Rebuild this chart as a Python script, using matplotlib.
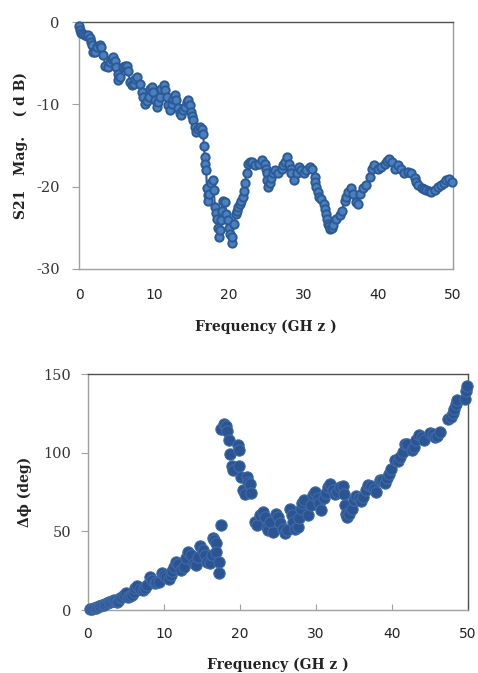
import matplotlib
matplotlib.use("Agg")
import matplotlib.pyplot as plt

# ---------------- data: S21 magnitude ----------------
freq_mag = [0.0, 0.1, 0.3, 0.55, 0.8, 1.05, 1.25, 1.5, 1.6, 1.7, 1.85, 2.1, 2.4, 2.8, 3.0, 3.25, 3.5,
            3.9, 4.1, 4.35, 4.6, 4.8, 5.0, 5.15, 5.25, 5.5, 5.9, 6.2, 6.4, 6.6, 6.8, 7.05, 7.3,
            7.5, 7.7, 8.1, 8.4, 8.6, 8.8, 9.05, 9.3, 9.5, 9.7, 9.9, 10.2, 10.4, 10.6, 10.8, 11.0,
            11.3, 11.5, 11.7, 11.9, 12.2, 12.4, 12.6, 12.8, 13.0, 13.3, 13.5, 13.7, 13.9, 14.2,
            14.4, 14.6, 14.8, 15.0, 15.15, 15.3, 15.5, 15.7, 15.9, 16.2, 16.4, 16.6, 16.7, 16.8,
            16.9, 17.0, 17.1, 17.2, 17.3, 17.4, 17.6, 17.9, 18.0, 18.2, 18.35, 18.5, 18.6, 18.7,
            18.8, 19.0, 19.1, 19.2, 19.5, 19.7, 19.9, 20.05, 20.2, 20.4, 20.5, 20.7, 21.0, 21.1,
            21.3, 21.5, 21.7, 21.9, 22.05, 22.2, 22.4, 22.6, 22.85, 23.1, 23.5, 24.0, 24.4, 24.8,
            25.0, 25.1, 25.2, 25.3, 25.5, 25.7, 25.9, 26.2, 26.6, 27.1, 27.3, 27.5, 27.8, 28.1,
            28.3, 28.4, 28.7, 29.1, 29.4, 29.7, 30.1, 30.4, 30.9, 31.2, 31.5, 31.6, 31.7, 31.9,
            32.1, 32.4, 32.7, 32.85, 33.0, 33.15, 33.3, 33.45, 33.6, 33.8, 34.0, 34.4, 34.9, 35.2,
            35.5, 35.75, 36.0, 36.3, 36.6, 37.0, 37.3, 37.6, 38.0, 38.4, 38.9, 39.2, 39.5, 40.0,
            40.4, 40.9, 41.2, 41.5, 41.8, 42.2, 42.7, 43.1, 43.5, 44.0, 44.4, 44.9, 45.1, 45.3,
            45.8, 46.1, 46.4, 46.8, 47.1, 47.6, 48.0, 48.4, 48.8, 49.1, 49.5, 49.8]
s21_mag = [-0.5, -1.0, -1.3, -1.5, -1.6, -1.7, -1.6, -2.0, -2.4, -2.8, -3.6, -3.6, -3.0, -2.8, -3.0, -4.0, -5.3,
           -5.5, -4.9, -4.5, -4.25, -4.7, -5.5, -6.3, -7.1, -6.7, -5.5, -5.3, -5.3, -5.9, -7.3, -7.6, -7.5,
           -6.9, -6.7, -7.5, -8.5, -9.1, -9.9, -9.6, -9.1, -8.1, -7.9, -8.5, -9.5, -10.3, -9.7, -9.1, -8.1,
           -7.7, -8.3, -9.1, -10.1, -10.7, -9.9, -9.3, -8.9, -9.5, -10.5, -11.0, -11.3, -10.7, -10.3,
           -9.7, -9.5, -10.1, -10.9, -11.4, -11.9, -12.8, -13.4, -13.0, -12.8, -13.0, -13.6, -15.0, -16.4,
           -17.2, -18.0, -20.2, -21.0, -21.7, -20.9, -19.6, -19.2, -20.4, -22.5, -23.2, -23.9, -25.0, -26.1,
           -25.3, -24.0, -22.9, -21.7, -21.9, -23.3, -24.1, -25.0, -25.7, -26.9, -26.1, -24.5, -23.3, -22.9,
           -22.5, -22.1, -21.7, -21.3, -20.5, -19.6, -18.4, -17.2, -17.0, -17.0, -17.4, -17.2, -16.8, -17.2,
           -17.8, -18.4, -19.2, -20.0, -19.6, -19.0, -18.4, -18.0, -18.4, -17.8, -17.4, -17.0, -16.4, -17.2,
           -17.8, -18.4, -19.2, -18.4, -17.6, -18.0, -18.4, -18.0, -17.6, -17.8, -18.8, -19.4, -20.0, -20.6,
           -21.3, -21.5, -22.1, -22.7, -23.3, -23.9, -24.5, -24.8, -25.1, -25.0, -24.7, -23.9, -23.5, -22.9,
           -21.7, -21.2, -20.6, -20.2, -20.9, -21.9, -22.1, -20.9, -20.2, -19.8, -18.8, -17.8, -17.4, -17.8,
           -17.6, -17.2, -16.9, -16.6, -17.0, -17.8, -17.4, -17.8, -18.4, -18.2, -18.4, -19.0, -19.4, -19.8,
           -20.2, -20.3, -20.4, -20.5, -20.6, -20.4, -20.0, -19.8, -19.6, -19.2, -19.1, -19.4]

# ---------------- data: phase difference ----------------
freq_phase = [0.3, 0.55, 0.75, 1.0, 1.2, 1.4, 1.6, 1.85, 2.1, 2.3, 2.5, 2.7, 2.9, 3.2, 3.4, 3.6, 3.8, 4.0,
              4.2, 4.45, 4.7, 5.0, 5.3, 5.55, 5.8, 6.0, 6.2, 6.5, 6.9, 7.3, 7.5, 7.7, 8.1, 8.4, 8.8,
              9.0, 9.3, 9.7, 10.0, 10.2, 10.6, 10.9, 11.1, 11.3, 11.6, 11.9, 12.2, 12.6, 12.9, 13.2,
              13.5, 13.9, 14.2, 14.5, 14.8, 15.1, 15.4, 15.7, 16.0, 16.3, 16.4, 16.6, 16.8, 16.9,
              17.2, 17.3, 17.5, 17.5, 17.9, 18.1, 18.3, 18.5, 18.7, 18.9, 19.1, 19.7, 19.9, 19.9,
              20.1, 20.4, 20.7, 20.9, 21.1, 21.3, 21.5, 22.0, 22.3, 22.6, 23.0, 23.3, 23.5, 23.7,
              24.0, 24.4, 24.7, 25.0, 25.3, 25.6, 25.9, 26.2, 26.6, 26.8, 27.0, 27.2, 27.6, 27.8,
              28.0, 28.2, 28.4, 29.0, 29.3, 29.6, 29.9, 30.2, 30.4, 30.7, 31.0, 31.3, 31.6, 31.9,
              32.2, 32.5, 32.8, 33.1, 33.5, 33.7, 33.8, 33.9, 34.1, 34.4, 34.7, 35.0, 35.2, 35.6,
              35.9, 36.2, 36.6, 36.9, 37.2, 37.6, 37.9, 38.4, 38.7, 39.1, 39.4, 39.6, 39.9, 40.4,
              40.8, 41.1, 41.4, 41.7, 42.0, 42.6, 42.9, 43.2, 43.6, 43.9, 44.2, 45.0, 45.4, 45.6,
              45.9, 46.3, 47.4, 47.7, 48.0, 48.1, 48.4, 48.6, 49.6, 49.8, 49.9]
delta_phi = [0.4, 0.7, 1.0, 1.5, 2.0, 2.4, 2.7, 3.0, 3.2, 3.6, 4.2, 4.8, 5.3, 5.8, 6.3, 5.6, 5.3, 6.0,
             7.4, 8.2, 9.5, 10.6, 8.5, 9.0, 9.5, 11.5, 13.7, 15.2, 13.1, 12.7, 14.2, 15.9, 20.7, 19.0, 16.9,
             17.5, 18.0, 23.3, 22.5, 21.2, 19.5, 22.2, 25.0, 27.5, 30.7, 29.2, 25.4, 27.5, 32.8, 37.0,
             34.9, 29.6, 28.6, 33.8, 40.6, 38.1, 34.9, 30.7, 29.6, 34.9, 45.5, 44.4, 42.3, 37.0,
             30.7, 23.3, 53.9, 115.3, 118.5, 116.8, 113.8, 107.9, 99.0, 91.4, 89.3, 104.7, 101.5, 91.4,
             84.6, 76.2, 73.6, 84.6, 81.4, 80.4, 74.5, 56.1, 53.9, 60.3, 62.4, 59.2, 52.9, 50.8,
             56.1, 49.7, 61.3, 59.2, 55.0, 51.8, 49.1, 50.8, 64.5, 60.3, 56.1, 51.8, 52.9, 58.2,
             64.5, 67.7, 70.2, 60.3, 66.6, 73.0, 75.1, 70.9, 67.7, 63.5, 70.9, 74.5, 78.3, 80.0,
             76.2, 73.6, 75.1, 78.3, 78.7, 74.0, 66.6, 61.3, 59.2, 61.3, 64.5, 69.8, 72.3, 70.9,
             69.4, 71.9, 76.2, 79.3, 78.7, 76.6, 75.1, 82.5, 82.9, 80.8, 83.6, 86.7, 89.9, 95.6,
             94.8, 97.3, 100.5, 105.3, 105.3, 102.0, 103.7, 108.3, 111.1, 110.0, 107.9, 112.5, 111.7, 110.0,
             110.4, 113.2, 121.6, 122.7, 125.2, 128.0, 130.7, 133.7, 134.3, 139.2, 142.2]

mag_yticks = [0, -10, -20, -30]
phase_yticks = [0, 50, 100, 150]
xticks = [0, 10, 20, 30, 40, 50]

W, H = 478, 673
fig = plt.figure(figsize=(W / 100, H / 100), dpi=100)

def box(l, t, r, b):
    return [l / W, 1 - b / H, (r - l) / W, (b - t) / H]

serif = "DejaVu Serif"
label_kw = dict(fontfamily=serif, fontweight="bold", fontsize=10, color="#222222")

# ---------- top panel ----------
ax1 = fig.add_axes(box(79, 22, 453, 269))
ax1.plot(freq_mag, s21_mag, "-o", color="#2b5a94", lw=1.5, ms=6.0,
         mfc="#4a7fc0", mec="#2b5a94", mew=1.4, clip_on=False, zorder=3)
ax1.set_xlim(0, 50)
ax1.set_ylim(-30, 0)
ax1.set_xticks(xticks)
ax1.set_yticks(mag_yticks)
ax1.set_xticklabels([str(v) for v in xticks], fontfamily="DejaVu Sans", fontsize=10, color="#222222")
ax1.set_yticklabels([str(v) for v in mag_yticks], fontfamily=serif, fontsize=10.5, color="#333333")
ax1.tick_params(axis="x", direction="in", length=0, pad=14)
ax1.tick_params(axis="y", direction="out", length=5, width=0.8, color="#a0a0a0", pad=9)
ax1.spines["left"].set_color("#a0a0a0")
ax1.spines["bottom"].set_color("#a0a0a0")
ax1.spines["top"].set_color("#505050")
ax1.spines["right"].set_color("#9a9a9a")
for s in ax1.spines.values():
    s.set_linewidth(1.0)
ax1.set_xlabel("Frequency (GH z )", labelpad=12, **label_kw)
ax1.set_ylabel("S21   Mag.    ( d B)", labelpad=6, **label_kw)

# ---------- bottom panel ----------
ax2 = fig.add_axes(box(88, 374, 468, 610))
ax2.scatter(freq_phase, delta_phi, s=66, c="#2a5592", edgecolors="#3f6aa6",
            linewidths=0.8, clip_on=False, zorder=3)
ax2.set_xlim(0, 50)
ax2.set_ylim(0, 150)
ax2.set_xticks(xticks)
ax2.set_yticks(phase_yticks)
ax2.set_xticklabels([str(v) for v in xticks], fontfamily="DejaVu Sans", fontsize=10, color="#222222")
ax2.set_yticklabels([str(v) for v in phase_yticks], fontfamily=serif, fontsize=10.5, color="#333333")
ax2.tick_params(axis="x", direction="in", length=4, width=0.8, color="#a0a0a0", pad=12)
ax2.tick_params(axis="y", direction="out", length=5, width=0.8, color="#a0a0a0", pad=7)
ax2.spines["left"].set_color("#a0a0a0")
ax2.spines["bottom"].set_color("#a0a0a0")
ax2.spines["top"].set_color("#505050")
ax2.spines["right"].set_color("#505050")
for s in ax2.spines.values():
    s.set_linewidth(1.0)
ax2.set_xlabel("Frequency (GH z )", labelpad=12, **label_kw)
ax2.set_ylabel("Δϕ (deg)", labelpad=8, **label_kw)

fig.savefig("out.png", dpi=100, facecolor="white")
